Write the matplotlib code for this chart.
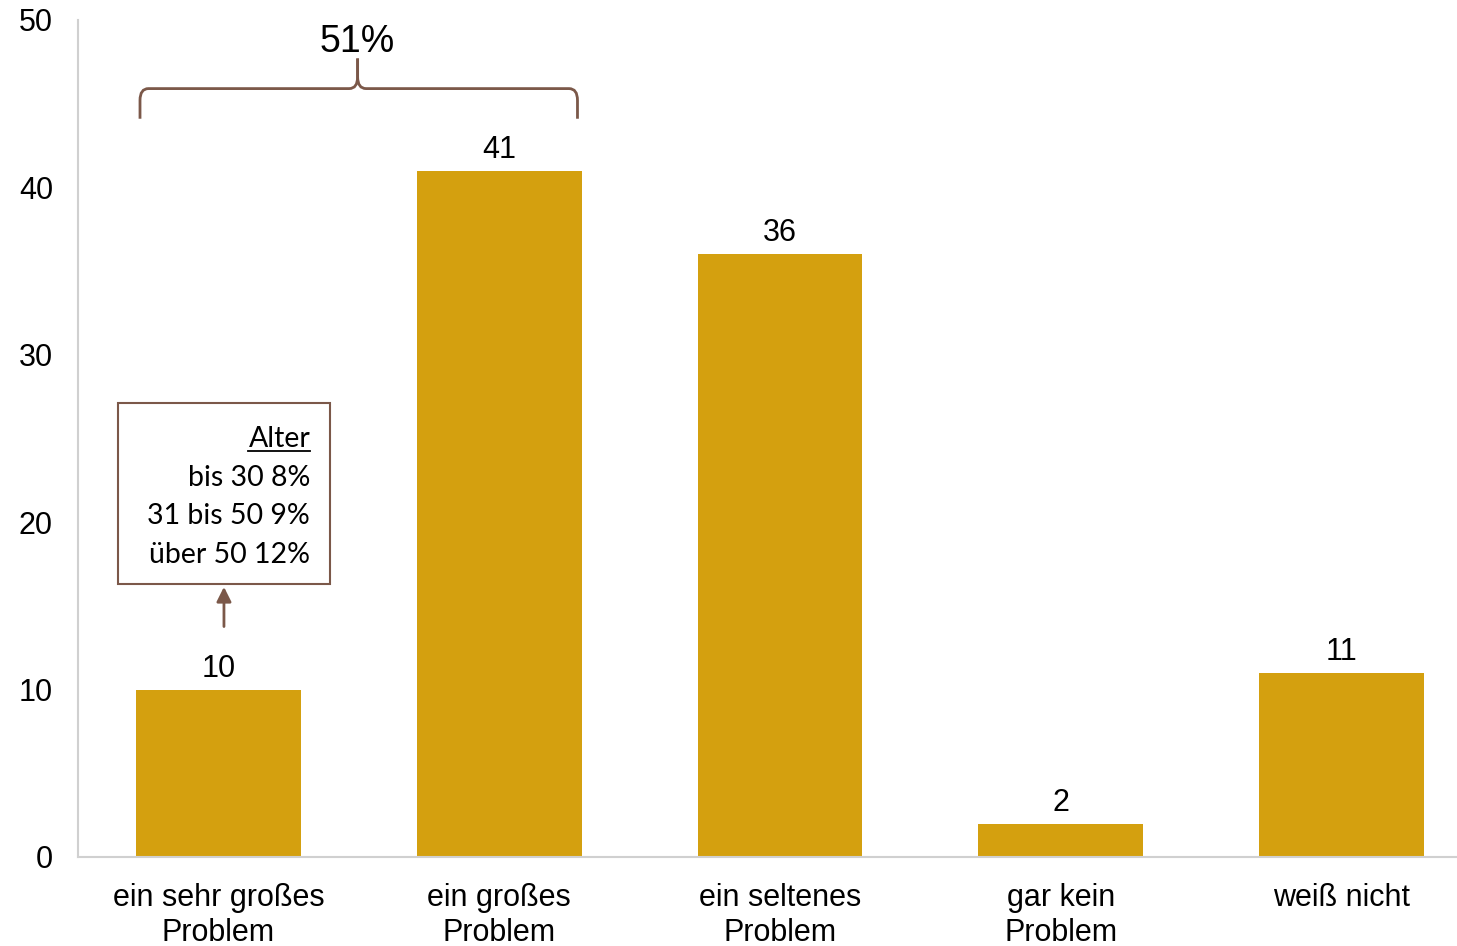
import matplotlib.pyplot as plt
from matplotlib.patches import Rectangle, PathPatch
from matplotlib.path import Path

# Umfragewerte in Prozent
kategorien = ['ein sehr großes\nProblem', 'ein großes\nProblem', 'ein seltenes\nProblem',
              'gar kein\nProblem', 'weiß nicht']
werte = [10, 41, 36, 2, 11]

# Altersaufschlüsselung für "ein sehr großes Problem"
alter_titel = 'Alter'
alter_zeilen = ['bis 30 8%', '31 bis 50 9%', 'über 50 12%']
summe_text = '51%'

GOLD = '#D4A00F'
BRAUN = '#7B5849'
ACHSE = '#D0D0D0'

plt.rcParams['font.family'] = ['Liberation Sans', 'DejaVu Sans']

fig = plt.figure(figsize=(14.57, 9.46), dpi=100)
ax = fig.add_axes([0.0535, 0.0941, 0.9636, 0.8848])

x = list(range(len(werte)))
bars = ax.bar(x, werte, width=0.587, color=GOLD, zorder=2)
for xi, v in zip(x, werte):
    ax.text(xi, v + 0.35, str(v), ha='center', va='bottom', fontsize=22)

ax.set_xlim(-0.5, 4.5)
ax.set_ylim(0, 50)
ax.set_yticks([0, 10, 20, 30, 40, 50])
ax.set_xticks(x)
ax.set_xticklabels(kategorien, fontsize=22, linespacing=1.22)
ax.tick_params(axis='y', length=0, pad=18, labelsize=22)
ax.tick_params(axis='x', length=0, pad=19)

for s in ['top', 'right']:
    ax.spines[s].set_visible(False)
for s in ['left', 'bottom']:
    ax.spines[s].set_color(ACHSE)
    ax.spines[s].set_linewidth(1.5)

# geschweifte Klammer über den ersten beiden Balken
x0, x1, xc = -0.279, 1.279, 0.496
y_bot, y_mid, y_tip = 44.1, 45.9, 47.7
rx, ry = 0.03, 0.7
codes = [Path.MOVETO, Path.LINETO, Path.CURVE3, Path.CURVE3, Path.LINETO,
         Path.CURVE3, Path.CURVE3, Path.LINETO]
links = Path([(x0, y_bot), (x0, y_mid - ry), (x0, y_mid), (x0 + rx, y_mid),
              (xc - rx, y_mid), (xc, y_mid), (xc, y_mid + ry), (xc, y_tip)], codes)
rechts = Path([(x1, y_bot), (x1, y_mid - ry), (x1, y_mid), (x1 - rx, y_mid),
               (xc + rx, y_mid), (xc, y_mid), (xc, y_mid + ry), (xc, y_tip)], codes)
for p in (links, rechts):
    ax.add_patch(PathPatch(p, fill=False, edgecolor=BRAUN, lw=2, clip_on=False))
ax.text(xc, 48.7, summe_text, ha='center', va='center', fontsize=27)

# Kasten mit Altersgruppen
ax.add_patch(Rectangle((-0.356, 16.3), 0.755, 10.8, fill=False,
                       edgecolor=BRAUN, lw=1.5, zorder=3))
ax.annotate('', xy=(0.02, 16.3), xytext=(0.02, 13.6),
            arrowprops=dict(arrowstyle='-|>', color=BRAUN, lw=2, mutation_scale=22))
tx = 0.327
t = ax.text(tx, 24.95, alter_titel, ha='right', va='center', fontsize=20.5, family='Lato')
for yi, zeile in zip([22.65, 20.35, 18.05], alter_zeilen):
    ax.text(tx, yi, zeile, ha='right', va='center', fontsize=20.5, family='Lato')

# Unterstreichung von "Alter"
fig.canvas.draw()
bb = t.get_window_extent().transformed(ax.transData.inverted())
ax.plot([bb.x0, bb.x1], [bb.y0 + 0.1, bb.y0 + 0.1], color='black', lw=1.3)

fig.savefig('out.png', dpi=100)
